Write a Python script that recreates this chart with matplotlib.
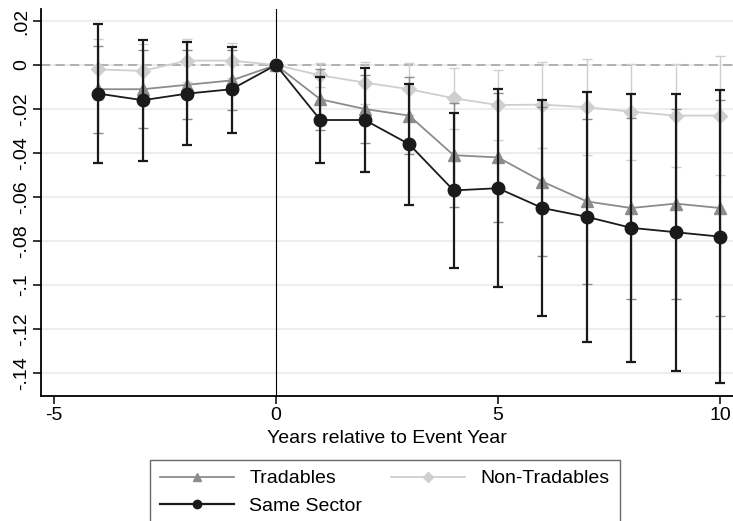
import matplotlib
matplotlib.use("Agg")
import matplotlib.pyplot as plt
from matplotlib.lines import Line2D
import numpy as np

plt.rcParams['font.family'] = ['Liberation Sans', 'DejaVu Sans']

# event-time grid
years = [-4, -3, -2, -1, 0, 1, 2, 3, 4, 5, 6, 7, 8, 9, 10]

# Same Sector
same_est = [-0.013, -0.016, -0.013, -0.011, 0.0, -0.025, -0.025, -0.036, -0.057,
            -0.056, -0.065, -0.069, -0.074, -0.076, -0.078]
same_lo = [-0.0444, -0.0435, -0.0365, -0.0308, 0.0, -0.0447, -0.0486, -0.0635, -0.0924,
           -0.101, -0.114, -0.126, -0.135, -0.139, -0.1447]
same_hi = [0.0185, 0.0115, 0.0106, 0.0083, 0.0, -0.0056, -0.0015, -0.0086, -0.022,
           -0.011, -0.0159, -0.0121, -0.0133, -0.0133, -0.0114]

# Tradables
trad_est = [-0.011, -0.011, -0.009, -0.007, 0.0, -0.0156, -0.020, -0.023, -0.041,
            -0.042, -0.053, -0.062, -0.065, -0.063, -0.065]
trad_lo = [-0.0308, -0.0286, -0.0247, -0.0205, 0.0, -0.0295, -0.0356, -0.0406, -0.0647,
           -0.0715, -0.0867, -0.0995, -0.1064, -0.1064, -0.114]
trad_hi = [0.0086, 0.0066, 0.0067, 0.0068, 0.0, -0.0017, -0.0044, -0.0054, -0.0172,
           -0.0125, -0.0193, -0.0247, -0.024, -0.020, -0.016]

# Non-Tradables
nont_est = [-0.002, -0.0027, 0.002, 0.002, 0.0, -0.0047, -0.008, -0.011, -0.0151,
            -0.0182, -0.018, -0.0192, -0.0212, -0.023, -0.023]
nont_lo = [-0.0157, -0.015, -0.0077, -0.0058, 0.0, -0.0102, -0.0175, -0.0228, -0.029,
           -0.034, -0.0375, -0.041, -0.043, -0.0465, -0.050]
nont_hi = [0.0117, 0.0095, 0.0117, 0.0098, 0.0, 0.0008, 0.0015, 0.0008, -0.0012,
           -0.0023, 0.0015, 0.0026, 0.0005, 0.0005, 0.0042]

yticks = [0.02, 0, -0.02, -0.04, -0.06, -0.08, -0.1, -0.12, -0.14]
ytick_labels = ['.02', '0', '-.02', '-.04', '-.06', '-.08', '-.1', '-.12', '-.14']
xticks = [-5, 0, 5, 10]

FS = 14

fig = plt.figure(figsize=(7.33, 5.21), dpi=100)
ax = fig.add_axes([0.0559, 0.2399, 0.9441, 0.7428])

x = np.array(years)
mask = x != 0


def draw_series(est, lo, hi, color, marker, ms, lw, elw, z):
    est = np.array(est)
    lo = np.array(lo)
    hi = np.array(hi)
    ax.errorbar(x[mask], est[mask], yerr=[est[mask] - lo[mask], hi[mask] - est[mask]],
                fmt='none', ecolor=color, elinewidth=elw, capsize=3.8, capthick=elw, zorder=z)
    ax.plot(x, est, color=color, lw=lw, marker=marker, ms=ms, mfc=color, mec=color, zorder=z + 0.5)


draw_series(nont_est, nont_lo, nont_hi, '#cfcfcf', 'D', 7, 1.3, 1.0, 3)
draw_series(trad_est, trad_lo, trad_hi, '#8c8c8c', '^', 8.5, 1.3, 1.0, 4)
draw_series(same_est, same_lo, same_hi, '#1a1a1a', 'o', 9, 1.3, 1.6, 5)

# reference lines
ax.axhline(0, color='#a0a0a0', lw=1.1, ls=(0, (6, 3.5)), zorder=2)
ax.axvline(0, color='black', lw=0.8, zorder=2)

ax.set_xlim(-5.293, 10.293)
ax.set_ylim(-0.15045, 0.02545)
ax.set_xticks(xticks)
ax.set_xticklabels([str(t) for t in xticks])
ax.set_yticks(yticks)
ax.set_yticklabels(ytick_labels, rotation=90, va='center')
ax.yaxis.grid(True, color='#ececec', lw=1.3)
ax.set_axisbelow(True)

for s in ['top', 'right']:
    ax.spines[s].set_visible(False)
for s in ['left', 'bottom']:
    ax.spines[s].set_linewidth(1.3)
    ax.spines[s].set_color('black')
ax.tick_params(axis='both', direction='out', length=6, width=1.1, labelsize=FS, pad=2)

ax.set_xlabel('Years relative to Event Year', fontsize=FS, labelpad=4)

handles = [
    Line2D([], [], color='#8c8c8c', marker='^', ms=6, lw=1.3),
    Line2D([], [], color='#1a1a1a', marker='o', ms=6, lw=1.6),
    Line2D([], [], color='#cfcfcf', marker='D', ms=5, lw=1.3),
]
labels = ['Tradables', 'Same Sector', 'Non-Tradables']
leg = fig.legend(handles, labels, loc='upper left', bbox_to_anchor=(150 / 733, 1 - 460 / 521),
                 ncol=2, fontsize=FS, frameon=True, fancybox=False, borderaxespad=0,
                 handlelength=3.8, handletextpad=0.8, columnspacing=1.5, labelspacing=0.5,
                 borderpad=0.5)
leg.get_frame().set_edgecolor('#444444')
leg.get_frame().set_linewidth(1.0)

fig.savefig('out.png', dpi=100)
